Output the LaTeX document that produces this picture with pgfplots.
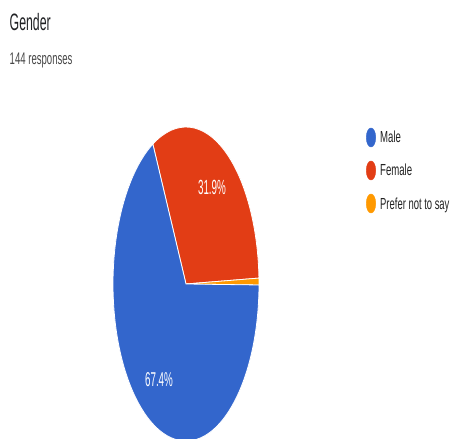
\documentclass[border=0pt]{standalone}
\usepackage{pgfplots}
\pgfplotsset{compat=1.18}
\usepackage{graphicx}
\usepackage{fontspec}
\setmainfont{Liberation Sans}
\definecolor{gblue}{HTML}{3366CC}
\definecolor{gred}{HTML}{E23D15}
\definecolor{gorange}{HTML}{FF9900}
\definecolor{titlecol}{HTML}{202124}
\definecolor{subcol}{HTML}{474747}
\definecolor{legcol}{HTML}{222222}
% data (percent)
\def\pFemale{31.9}
\def\pPrefer{0.7}
\def\pMale{67.4}
\begin{document}
\begin{tikzpicture}
\pgfmathsetmacro{\aS}{117}
\pgfmathsetmacro{\aF}{\aS-\pFemale*3.6}
\pgfmathsetmacro{\aP}{\aF-\pPrefer*3.6}
\pgfmathsetmacro{\aM}{\aP-\pMale*3.6}
\begin{axis}[width=451pt,height=439pt,scale only axis,
  at={(0,0)}, anchor=south west,
  xmin=0,xmax=451,ymin=0,ymax=439,axis lines=none,ticks=none]
% pie wedges (center 186,155; radii 73 x 157)
\fill[gred, draw=white, line width=0.8pt] (axis cs:186,155) -- ++(\aS:73pt and 157pt)
   arc[start angle=\aS, end angle=\aF, x radius=73pt, y radius=157pt] -- cycle;
\fill[gorange, draw=white, line width=0.8pt] (axis cs:186,155) -- ++(\aF:73pt and 157pt)
   arc[start angle=\aF, end angle=\aP, x radius=73pt, y radius=157pt] -- cycle;
\fill[gblue, draw=white, line width=0.8pt] (axis cs:186,155) -- ++(\aP:73pt and 157pt)
   arc[start angle=\aP, end angle=\aM, x radius=73pt, y radius=157pt] -- cycle;
% slice labels
\node[anchor=base, inner sep=0, text=white, font=\fontsize{20.5}{24}\selectfont] at (axis cs:212,244) {\scalebox{0.48}[1]{31.9\%}};
\node[anchor=base, inner sep=0, text=white, font=\fontsize{20}{24}\selectfont] at (axis cs:159,52) {\scalebox{0.49}[1]{67.4\%}};
% legend markers
\addplot[only marks, mark=*, mark size=9.5pt, mark options={xscale=0.5, fill=gblue, draw=gblue}] coordinates {(371,301.5)};
\addplot[only marks, mark=*, mark size=9.5pt, mark options={xscale=0.5, fill=gred, draw=gred}] coordinates {(371,268.5)};
\addplot[only marks, mark=*, mark size=9.5pt, mark options={xscale=0.5, fill=gorange, draw=gorange}] coordinates {(371,235.5)};
% legend text
\node[anchor=base west, inner sep=0, text=legcol, font=\fontsize{16}{19}\selectfont] at (axis cs:380,296) {\scalebox{0.6}[1]{Male}};
\node[anchor=base west, inner sep=0, text=legcol, font=\fontsize{16}{19}\selectfont] at (axis cs:380,263) {\scalebox{0.6}[1]{Female}};
\node[anchor=base west, inner sep=0, text=legcol, font=\fontsize{16}{19}\selectfont] at (axis cs:380,229.5) {\scalebox{0.59}[1]{Prefer not to say}};
% titles
\node[anchor=base west, inner sep=0, text=titlecol, font=\fontsize{23.7}{28}\selectfont] at (axis cs:9.5,408.5) {\scalebox{0.52}[1]{Gender}};
\node[anchor=base west, inner sep=0, text=subcol, font=\fontsize{16.8}{20}\selectfont] at (axis cs:9.5,374) {\scalebox{0.57}[1]{144 responses}};
\end{axis}
\pgfresetboundingbox
\useasboundingbox (0,0) rectangle (451pt,439pt);
\end{tikzpicture}
\end{document}
